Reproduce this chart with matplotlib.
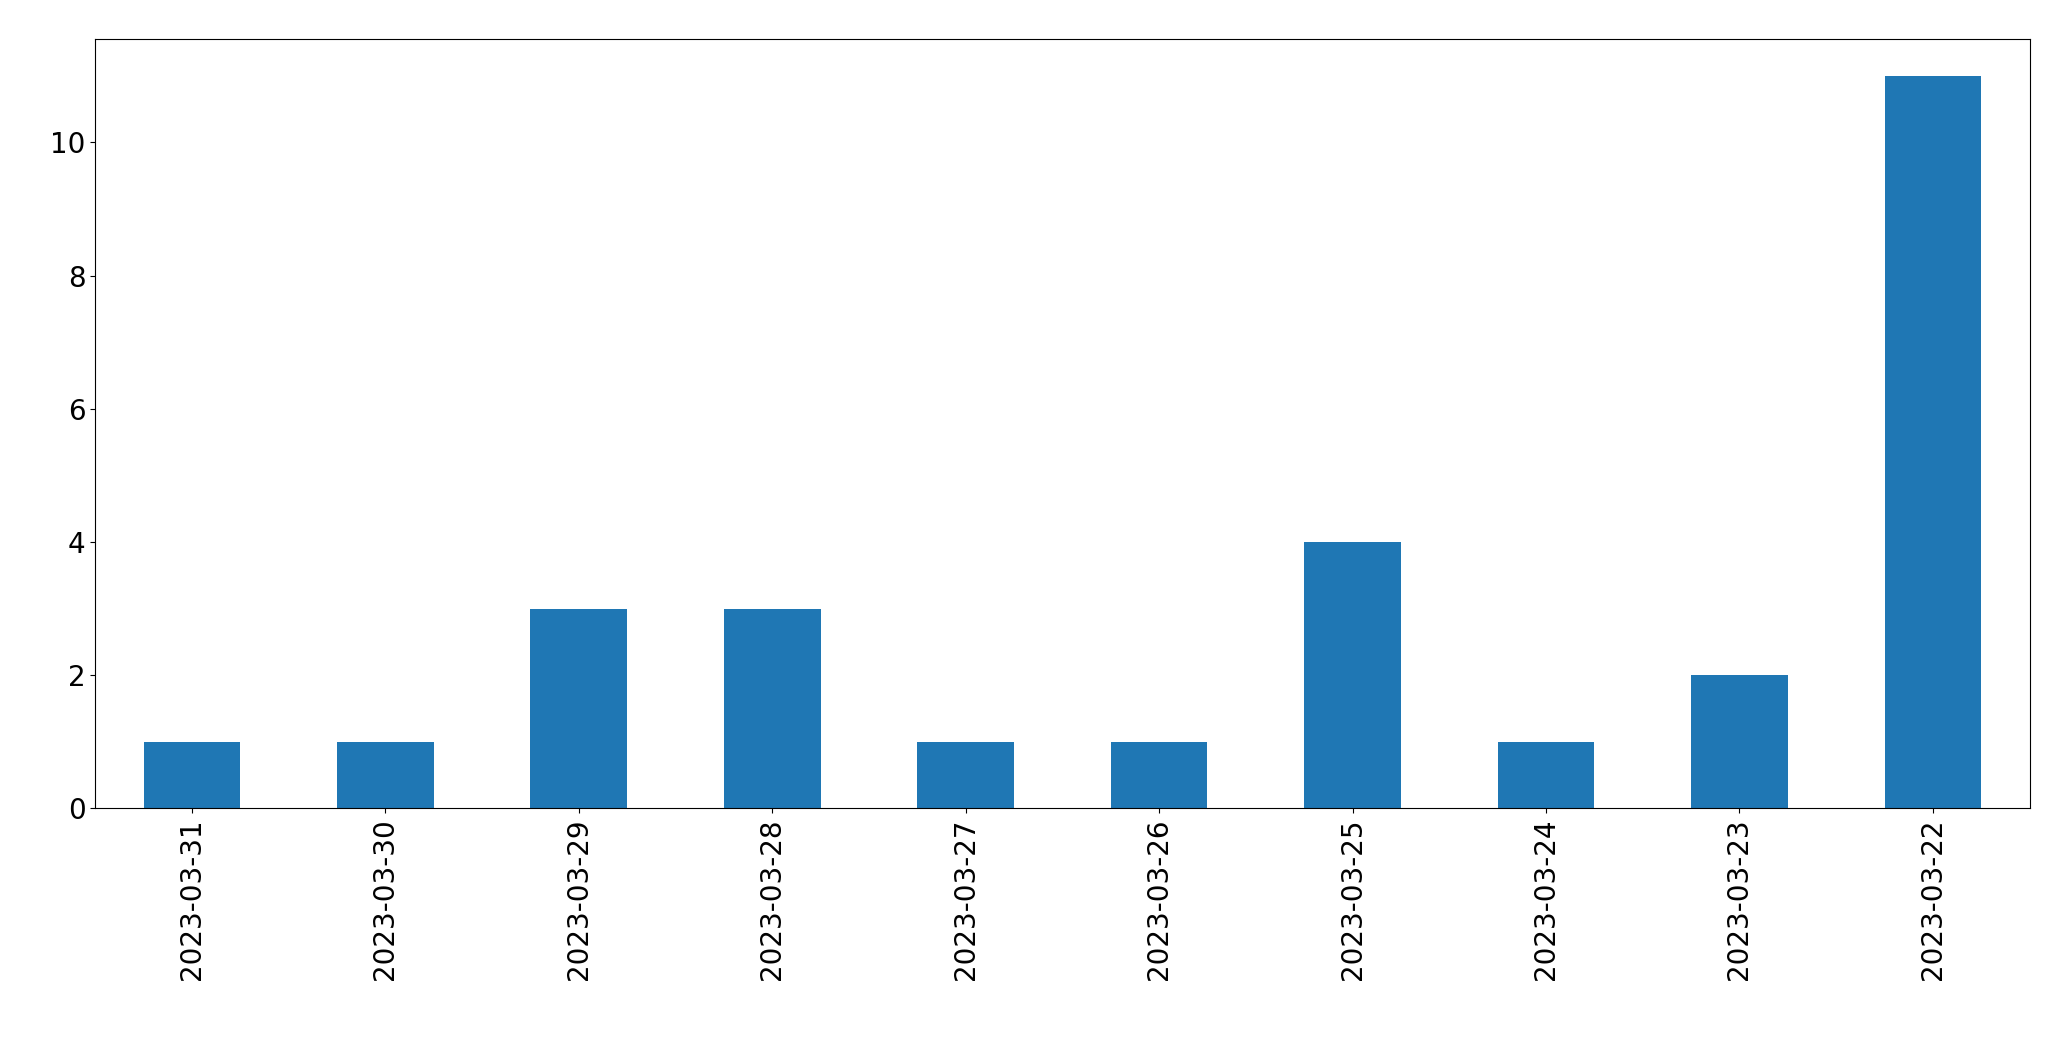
import matplotlib
matplotlib.use("Agg")
from matplotlib import pyplot as plt

dates = ["2023-03-31", "2023-03-30", "2023-03-29", "2023-03-28", "2023-03-27",
         "2023-03-26", "2023-03-25", "2023-03-24", "2023-03-23", "2023-03-22"]
counts = [1, 1, 3, 3, 1, 1, 4, 1, 2, 11]

fig = plt.figure(figsize=(20.71, 10.61), dpi=100)
ax = fig.add_axes([0.046, 0.238, 0.934, 0.725])

x = range(len(dates))
ax.bar(x, counts, width=0.5, color="#1f77b4")
ax.set_xlim(-0.5, len(dates) - 0.5)
ax.set_ylim(0, 11.55)
ax.set_xticks(list(x))
ax.set_xticklabels(dates, rotation=90)
ax.tick_params(labelsize=20)

fig.savefig("out.png", dpi=100)
